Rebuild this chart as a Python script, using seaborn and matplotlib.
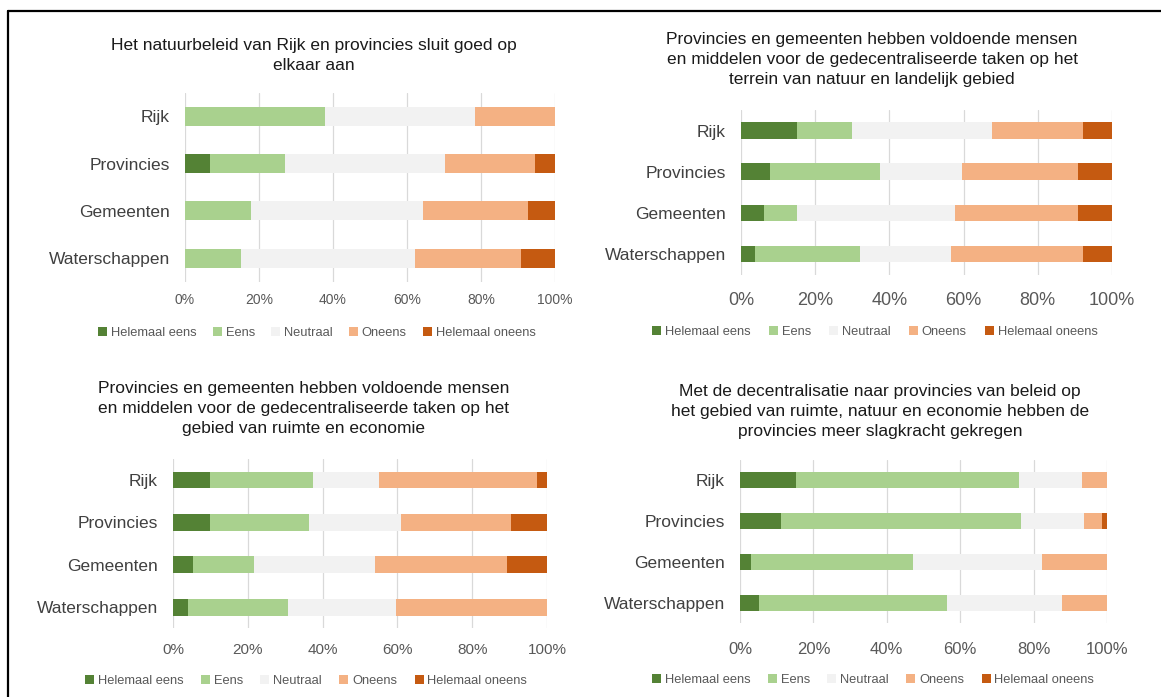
import matplotlib
matplotlib.use("Agg")
import matplotlib.pyplot as plt
from matplotlib.lines import Line2D
from matplotlib.patches import Patch
import seaborn as sns
import pandas as pd

# ---------------- data ----------------
categories = ["Rijk", "Provincies", "Gemeenten", "Waterschappen"]
responses = ["Helemaal eens", "Eens", "Neutraal", "Oneens", "Helemaal oneens"]
tick_values = [0, 20, 40, 60, 80, 100]
tick_labels = ["0%", "20%", "40%", "60%", "80%", "100%"]

title1 = "Het natuurbeleid van Rijk en provincies sluit goed op\nelkaar aan"
p1_helemaal_eens = [0.0, 6.8, 0.0, 0.0]
p1_eens = [37.9, 20.3, 17.9, 15.0]
p1_neutraal = [40.5, 43.1, 46.3, 47.2]
p1_oneens = [21.6, 24.5, 28.6, 28.5]
p1_helemaal_oneens = [0.0, 5.3, 7.2, 9.3]

title2 = ("Provincies en gemeenten hebben voldoende mensen\n"
          "en middelen voor de gedecentraliseerde taken op het\n"
          "terrein van natuur en landelijk gebied")
p2_helemaal_eens = [15.0, 7.8, 6.2, 3.7]
p2_eens = [14.9, 29.8, 9.0, 28.3]
p2_neutraal = [37.7, 22.1, 42.4, 24.6]
p2_oneens = [24.7, 31.2, 33.3, 35.7]
p2_helemaal_oneens = [7.7, 9.1, 9.1, 7.7]

title3 = ("Provincies en gemeenten hebben voldoende mensen\n"
          "en middelen voor de gedecentraliseerde taken op het\n"
          "gebied van ruimte en economie")
p3_helemaal_eens = [10.0, 9.8, 5.4, 3.9]
p3_eens = [27.5, 26.6, 16.3, 26.8]
p3_neutraal = [17.5, 24.5, 32.4, 29.0]
p3_oneens = [42.4, 29.4, 35.1, 40.3]
p3_helemaal_oneens = [2.6, 9.7, 10.8, 0.0]

title4 = ("Met de decentralisatie naar provincies van beleid op\n"
          "het gebied van ruimte, natuur en economie hebben de\n"
          "provincies meer slagkracht gekregen")
p4_helemaal_eens = [15.2, 11.2, 2.9, 5.3]
p4_eens = [60.9, 65.4, 44.3, 51.0]
p4_neutraal = [17.2, 17.2, 35.0, 31.5]
p4_oneens = [6.7, 4.9, 17.8, 12.2]
p4_helemaal_oneens = [0.0, 1.3, 0.0, 0.0]

# ---------------- style ----------------
colors = ["#548235", "#A9D18E", "#F2F2F2", "#F4B183", "#C55A11"]

sns.set_theme(style="white")
plt.rcParams["font.family"] = ["Liberation Sans", "DejaVu Sans"]

W, H = 1161, 697
fig = plt.figure(figsize=(W / 100, H / 100), dpi=100)
fig.patch.set_facecolor("white")

def fx(x):
    return x / W

def fy(y):
    return 1 - y / H

panels = [
    dict(series=[p1_helemaal_eens, p1_eens, p1_neutraal, p1_oneens, p1_helemaal_oneens],
         title=title1, x0=185, x1=555, c0=116.3, step=47.3, tick_fs=10, tick_pad=8,
         title_cx=314, title_top=38, leg_y=333, leg_cx=317, colsp=1.25),
    dict(series=[p2_helemaal_eens, p2_eens, p2_neutraal, p2_oneens, p2_helemaal_oneens],
         title=title2, x0=741, x1=1112, c0=130.5, step=41.2, tick_fs=13, tick_pad=12.5,
         title_cx=872, title_top=32, leg_y=332, leg_cx=875, colsp=1.4),
    dict(series=[p3_helemaal_eens, p3_eens, p3_neutraal, p3_oneens, p3_helemaal_oneens],
         title=title3, x0=173, x1=547, c0=480, step=42.4, tick_fs=11, tick_pad=10.5,
         title_cx=304, title_top=381, leg_y=681, leg_cx=306, colsp=1.35),
    dict(series=[p4_helemaal_eens, p4_eens, p4_neutraal, p4_oneens, p4_helemaal_oneens],
         title=title4, x0=740, x1=1107, c0=480.3, step=40.9, tick_fs=12, tick_pad=13,
         title_cx=880, title_top=384, leg_y=680, leg_cx=873, colsp=1.35),
]

for p in panels:
    top = p["c0"] - p["step"] / 2
    bottom = top + 4 * p["step"]
    ax = fig.add_axes([fx(p["x0"]), fy(bottom), fx(p["x1"] - p["x0"]), (bottom - top) / H])

    # long table with cumulative ends of each stacked segment
    rows = []
    for ci, cat in enumerate(categories):
        cum = 0.0
        for ri, resp in enumerate(responses):
            cum += p["series"][ri][ci]
            rows.append(dict(categorie=cat, antwoord=resp, cum=cum))
    df = pd.DataFrame(rows)

    for ri in range(len(responses) - 1, -1, -1):
        sub = df[df["antwoord"] == responses[ri]]
        sns.barplot(data=sub, x="cum", y="categorie", order=categories, orient="h",
                    color=colors[ri], saturation=1, width=0.4, errorbar=None,
                    linewidth=0, ax=ax, zorder=2)

    ax.set_xlim(0, 100)
    ax.set_ylim(3.5, -0.5)
    ax.set_xticks(tick_values)
    ax.set_xticklabels(tick_labels, fontsize=p["tick_fs"], color="#595959")
    ax.set_yticklabels(categories, fontsize=12.5, color="#404040")
    ax.tick_params(axis="x", length=0, pad=p["tick_pad"])
    ax.tick_params(axis="y", length=0, pad=11)
    ax.set_xlabel("")
    ax.set_ylabel("")
    for s in ax.spines.values():
        s.set_visible(False)
    ax.xaxis.grid(True, color="#D9D9D9", linewidth=0.9, zorder=0)
    ax.yaxis.grid(False)
    ax.set_axisbelow(True)
    ax.set_facecolor("none")

    fig.text(fx(p["title_cx"]), fy(p["title_top"]), p["title"], ha="center", va="top",
             fontsize=12.5, color="#1a1a1a", linespacing=1.42)

    handles = [Patch(facecolor=c, edgecolor="none") for c in colors]
    fig.legend(handles, responses, loc="center", ncol=5, frameon=False,
               bbox_to_anchor=(fx(p["leg_cx"]), fy(p["leg_y"])),
               fontsize=9.3, labelcolor="#595959", handlelength=0.7, handleheight=0.7,
               handletextpad=0.3, columnspacing=p["colsp"], borderaxespad=0, borderpad=0)

# frame lines (top and left) of the cropped figure border
fig.add_artist(Line2D([fx(8), 1], [fy(11), fy(11)], color="black", linewidth=1.6))
fig.add_artist(Line2D([fx(8), fx(8)], [fy(11), 0], color="black", linewidth=1.6))

fig.savefig("out.png", dpi=100, facecolor="white")
